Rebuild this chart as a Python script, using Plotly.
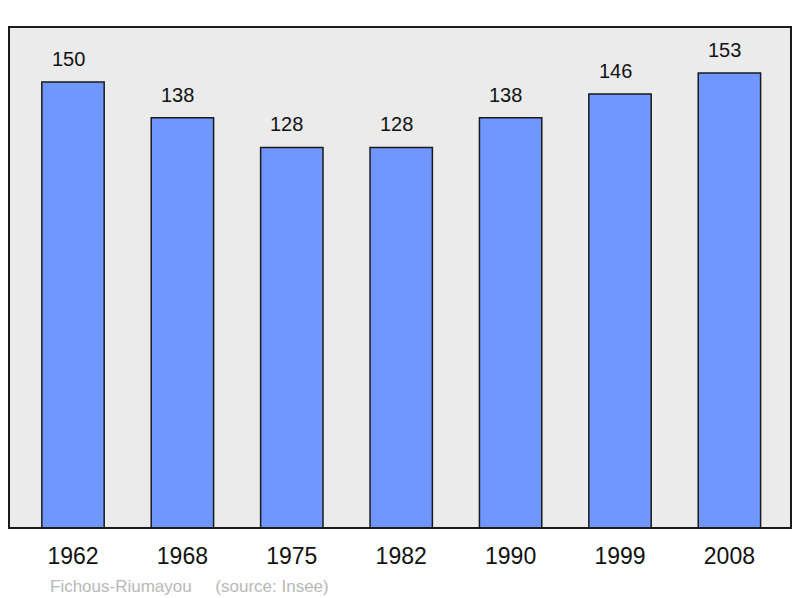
import plotly.graph_objects as go

years = ["1962", "1968", "1975", "1982", "1990", "1999", "2008"]
population = [150, 138, 128, 128, 138, 146, 153]
commune = "Fichous-Riumayou"
source = "(source: Insee)"

positions = list(range(len(years)))

fig = go.Figure()

fig.add_trace(
    go.Bar(
        x=positions,
        y=population,
        width=0.57,
        marker=dict(color="#7096ff", line=dict(color="#1a1a1a", width=1.5)),
        hoverinfo="skip",
    )
)

# value labels above each bar (sit a touch left of centre in the original)
for pos, val in zip(positions, population):
    fig.add_annotation(
        x=pos,
        y=val,
        text=str(val),
        showarrow=False,
        yanchor="bottom",
        yshift=10,
        xshift=-5,
        font=dict(family="Liberation Sans, Arial", size=20, color="#111111"),
    )

fig.add_annotation(
    xref="paper",
    yref="paper",
    x=0.05,
    y=-0.116,
    xanchor="left",
    yanchor="middle",
    text=f"{commune}&nbsp;&nbsp;&nbsp;&nbsp;&nbsp;{source}",
    showarrow=False,
    font=dict(family="Liberation Sans, Arial", size=17, color="#b8b8b8"),
)

# frame around plot area
fig.add_shape(
    type="rect",
    xref="paper",
    yref="paper",
    x0=0,
    x1=1,
    y0=0,
    y1=1,
    line=dict(color="#1a1a1a", width=2),
    layer="above",
)

# page body adds an 8px margin, so the figure is 8px smaller
fig.update_layout(
    width=792,
    height=590,
    margin=dict(l=1, r=9, t=19, b=70),
    paper_bgcolor="white",
    plot_bgcolor="#ebebeb",
    showlegend=False,
    xaxis=dict(
        tickvals=positions,
        ticktext=years,
        range=[-0.585, 6.563],
        showgrid=False,
        zeroline=False,
        ticks="",
        ticklabelstandoff=12,
        tickfont=dict(family="Liberation Sans, Arial", size=23, color="#111111"),
        fixedrange=True,
    ),
    yaxis=dict(
        range=[0, 168.5],
        showgrid=False,
        zeroline=False,
        showticklabels=False,
        fixedrange=True,
    ),
)

fig.write_html("out.html")
